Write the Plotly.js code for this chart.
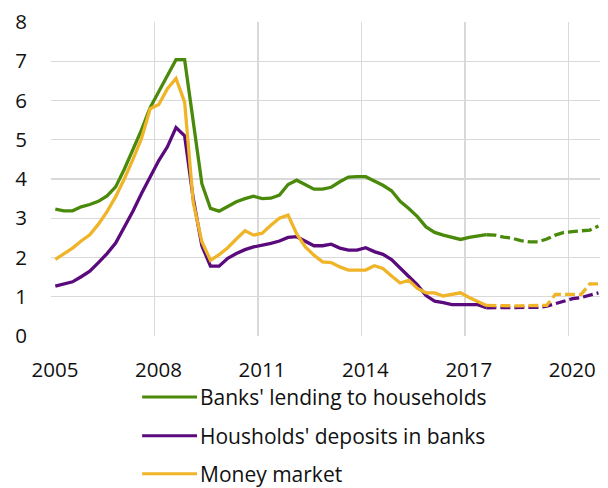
<!DOCTYPE html>
<html>
<head>
<meta charset="utf-8">
<script src="https://cdn.plot.ly/plotly-3.0.1.min.js"></script>
<style>html,body{margin:0;padding:0;background:#fff;}#chart{width:608px;height:488px;}</style>
</head>
<body>
<div id="chart"></div>
<script>
// Quarterly observations 2005Q1 .. 2020Q4 (from 2017Q3 on: forecast, dashed)
const years = [2005,2006,2007,2008,2009,2010,2011,2012,2013,2014,2015,2016,2017,2018,2019,2020];
const forecastStart = 50; // index of first forecast point (shared with history)

const lending = [
  3.23,3.19,3.19,3.29, 3.35,3.43,3.57,3.80, 4.25,4.75,5.25,5.82,
  6.22,6.64,7.04,7.04, 5.50,3.88,3.25,3.18, 3.30,3.42,3.50,3.56,
  3.50,3.51,3.59,3.86, 3.97,3.85,3.74,3.74, 3.79,3.93,4.05,4.06,
  4.06,3.95,3.84,3.70, 3.43,3.25,3.04,2.78, 2.64,2.57,2.51,2.46,
  2.51,2.55,2.58,2.57, 2.52,2.49,2.43,2.40, 2.40,2.47,2.57,2.64,
  2.66,2.67,2.70,2.80
];
const deposits = [
  1.27,1.32,1.38,1.51, 1.65,1.87,2.10,2.37, 2.77,3.18,3.63,4.07,
  4.47,4.82,5.31,5.10, 3.50,2.30,1.78,1.78, 1.98,2.10,2.20,2.27,
  2.31,2.36,2.42,2.51, 2.53,2.41,2.30,2.30, 2.34,2.24,2.19,2.19,
  2.25,2.15,2.08,1.95, 1.74,1.52,1.30,1.03, 0.89,0.85,0.80,0.80,
  0.80,0.80,0.72,0.72, 0.72,0.73,0.73,0.73, 0.73,0.76,0.82,0.90,
  0.95,0.98,1.04,1.10
];
const moneyMarket = [
  1.95,2.09,2.24,2.42, 2.58,2.85,3.17,3.55, 4.00,4.50,5.03,5.79,
  5.90,6.30,6.56,5.96, 3.40,2.40,1.93,2.07, 2.25,2.47,2.68,2.57,
  2.62,2.82,3.00,3.08, 2.60,2.27,2.06,1.89, 1.87,1.76,1.68,1.68,
  1.68,1.79,1.72,1.53, 1.35,1.42,1.21,1.10, 1.10,1.02,1.06,1.10,
  0.98,0.88,0.78,0.77, 0.77,0.77,0.77,0.77, 0.77,0.78,1.06,1.06,
  1.06,1.06,1.33,1.33
];

const seriesNames = ["Banks' lending to households", "Housholds' deposits in banks", "Money market"];
const seriesColors = ["#4a8a0a", "#5a0a7c", "#f0b428"];
const tickYears = [2005, 2008, 2011, 2014, 2017, 2020];
const tickLabels = ["2005", "2008", "2011", "2014", "2017", "2020"];

// x position of each quarter (middle of the quarter)
const quarters = [];
years.forEach(y => { for (let q = 1; q <= 4; q++) quarters.push(y + (q - 0.5) / 4); });

const allSeries = [lending, deposits, moneyMarket];
const traces = [];
allSeries.forEach((vals, k) => {
  traces.push({
    x: quarters.slice(0, forecastStart + 1), y: vals.slice(0, forecastStart + 1),
    type: 'scatter', mode: 'lines', name: seriesNames[k], showlegend: false,
    line: {color: seriesColors[k], width: 3.3, shape: 'linear'}, hoverinfo: 'skip'
  });
  traces.push({
    x: quarters.slice(forecastStart), y: vals.slice(forecastStart),
    type: 'scatter', mode: 'lines', name: seriesNames[k] + ' (forecast)', showlegend: false,
    line: {color: seriesColors[k], width: 3.3, dash: '10px,4px'}, hoverinfo: 'skip'
  });
});

// legend drawn below the plot
const legendY = [-0.194, -0.318, -0.439];
const shapes = [], annotations = [];
seriesNames.forEach((n, k) => {
  shapes.push({type: 'line', xref: 'paper', yref: 'paper', x0: 0.166, x1: 0.266,
    y0: legendY[k], y1: legendY[k], line: {color: seriesColors[k], width: 3}});
  annotations.push({xref: 'paper', yref: 'paper', x: 0.270, y: legendY[k],
    xanchor: 'left', yanchor: 'middle', showarrow: false, text: n, borderpad: 0,
    font: {family: 'Open Sans', size: 21, color: '#111'}});
});

const layout = {
  width: 608, height: 488,
  margin: {l: 51, r: 8, t: 22, b: 152},
  paper_bgcolor: '#fff', plot_bgcolor: '#fff',
  font: {family: 'Open Sans', size: 20.5, color: '#111'},
  showlegend: false,
  xaxis: {
    range: [2005, 2020.92], tickmode: 'array', tickvals: tickYears, ticktext: tickLabels,
    ticklabelshift: 4,
    showgrid: true, gridcolor: '#d9d9d9', gridwidth: 1.4, zeroline: false, showline: false,
    ticks: 'outside', ticklen: 15, tickcolor: 'rgba(0,0,0,0)', fixedrange: true
  },
  yaxis: {
    range: [0, 8], dtick: 1, tick0: 0,
    showgrid: true, gridcolor: '#d9d9d9', gridwidth: 1.4, zeroline: false, showline: false,
    ticks: 'outside', ticklen: 19, tickcolor: 'rgba(0,0,0,0)', fixedrange: true
  },
  shapes: shapes,
  annotations: annotations
};

Plotly.newPlot('chart', traces, layout, {displayModeBar: false, staticPlot: true});
</script>
</body>
</html>
